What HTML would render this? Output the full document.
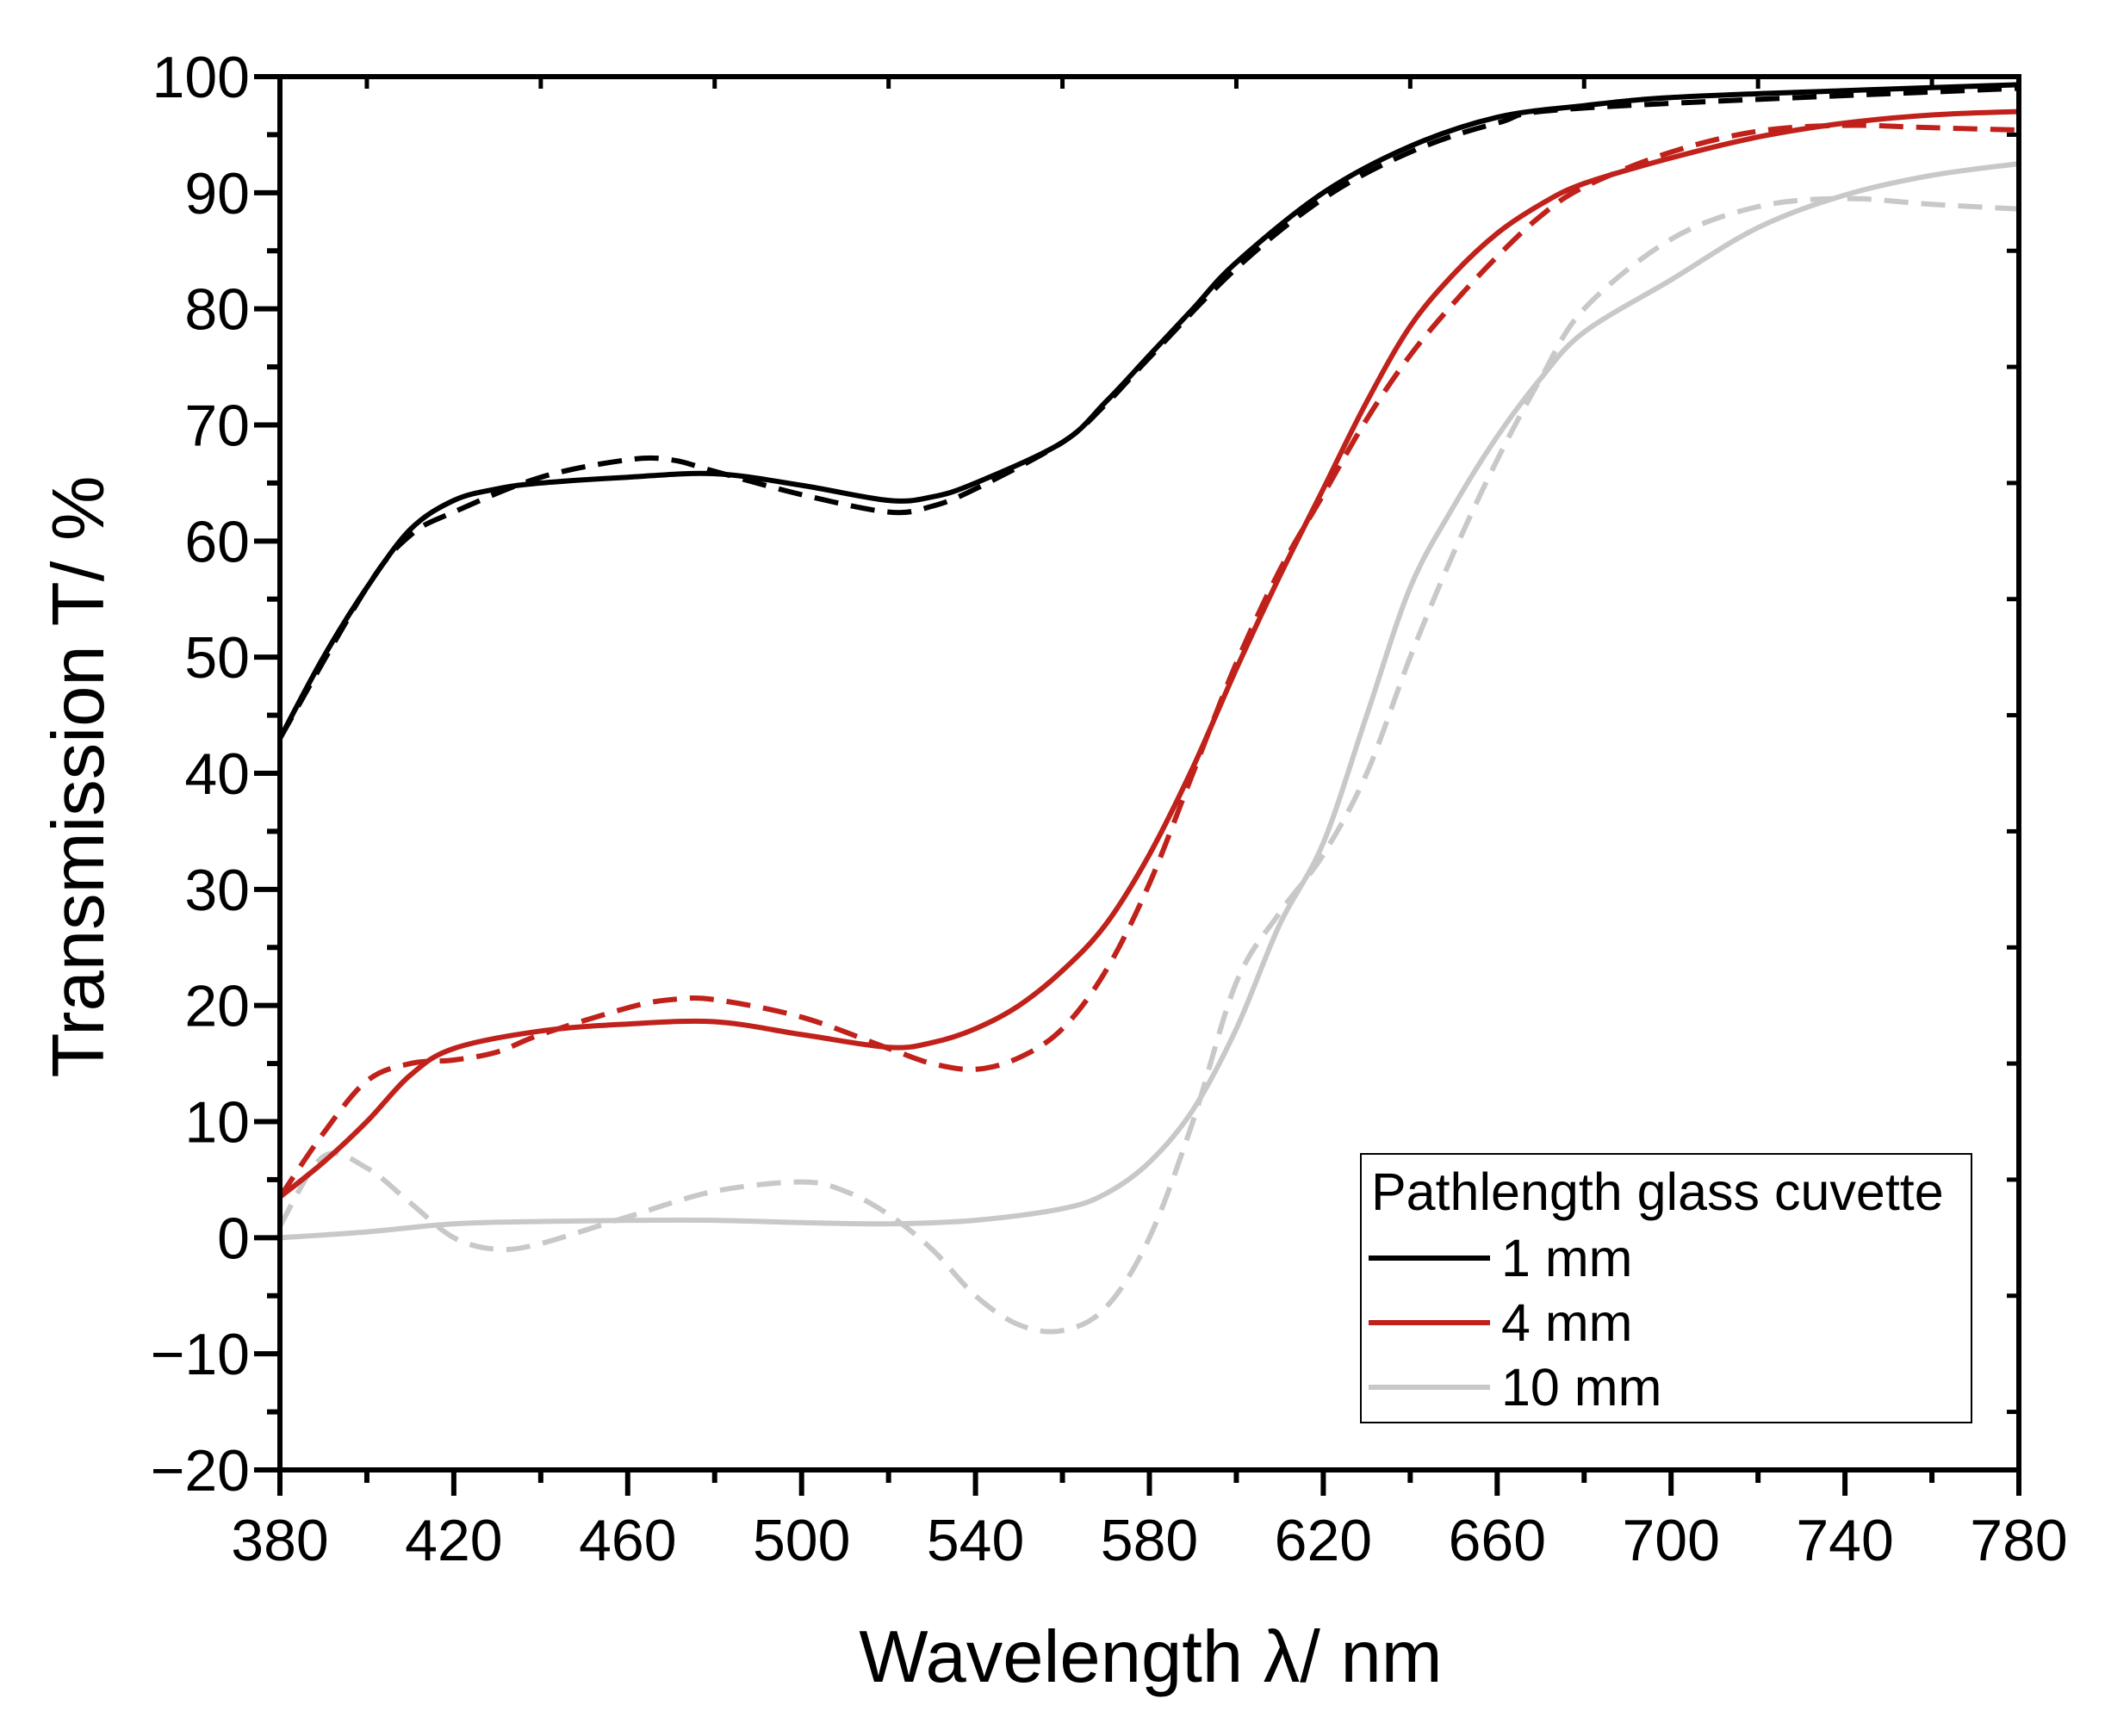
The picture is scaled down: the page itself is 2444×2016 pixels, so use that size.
<!DOCTYPE html>
<html><head><meta charset="utf-8"><style>body{margin:0;background:#fff}svg{display:block}text{font-family:"Liberation Sans",Arial,sans-serif;fill:#000}</style></head>
<body>
<svg id="s" width="2444" height="2016" viewBox="0 0 2444 2016" xmlns="http://www.w3.org/2000/svg"></svg>
<script>
const s=document.getElementById('s');
const X=l=>325+(l-380)*(2344-325)/400, Y=t=>1707-(t+20)*(1707-89)/120;
let h='';
const D={
bs:[[380,43],[390,50],[400,56],[410,61],[420,63.5],[430,64.5],[440,65],[460,65.5],[480,65.8],[500,64.8],[520,63.5],[530,63.8],[540,65],[560,68.5],[570,72],[580,76],[590,80],[600,84],[620,90],[640,94],[660,96.5],[680,97.5],[700,98.2],[740,98.8],[780,99.3]],
bd:[[380,43],[400,56],[410,60.5],[420,62.5],[440,65.5],[460,67],[470,67],[480,66],[500,64],[520,62.5],[530,63],[540,64.5],[560,68.5],[570,71.8],[580,75.8],[600,83.5],[620,89.5],[640,93.5],[660,96],[680,97.3],[780,99]],
rs:[[380,3.5],[390,6.5],[400,10],[410,14],[420,16.3],[440,17.8],[460,18.4],[480,18.6],[500,17.5],[520,16.4],[530,16.8],[540,18],[550,20],[560,23],[570,27],[580,33],[590,40.5],[600,49],[610,57],[620,64.5],[630,72],[640,78.5],[650,83],[660,86.5],[670,89],[680,90.8],[700,93],[720,94.8],[740,96],[760,96.7],[780,97]],
rd:[[380,3.5],[390,9],[400,13.5],[410,15],[420,15.3],[430,16],[440,17.5],[460,19.8],[470,20.5],[480,20.5],[500,19],[520,16.3],[530,15],[540,14.5],[550,15.5],[560,18],[570,23],[580,30.5],[590,40],[600,49.5],[610,57.5],[620,64],[630,70.5],[640,76],[650,80.5],[660,84.5],[670,88],[680,90.5],[700,93.5],[720,95.3],[740,95.8],[760,95.6],[780,95.4]],
gs:[[380,0],[400,0.5],[420,1.2],[440,1.4],[460,1.5],[480,1.5],[500,1.3],[520,1.2],[540,1.5],[560,2.5],[570,3.8],[580,6.5],[590,11],[600,18],[610,27],[620,34],[630,45],[640,56],[650,63],[660,69],[670,74],[680,78],[700,82.5],[720,87],[740,89.8],[760,91.5],[780,92.5]],
gd:[[380,1],[390,7],[400,6],[410,3],[420,0],[430,-1],[440,-0.5],[460,1.8],[480,4],[500,4.8],[510,4],[520,2],[530,-1],[540,-5],[550,-7.5],[560,-8],[570,-6],[580,0],[590,10],[600,22],[610,28],[620,33],[630,40],[640,50],[650,59],[660,67],[670,74],[680,80],[700,86],[720,88.8],[740,89.5],[760,89],[780,88.6]]};
function path(p,c,d){const P=p.map(q=>[X(q[0]),Y(q[1])]);let st='M'+P[0][0].toFixed(1)+','+P[0][1].toFixed(1);
for(let i=0;i<P.length-1;i++){const p0=P[Math.max(0,i-1)],p1=P[i],p2=P[i+1],p3=P[Math.min(P.length-1,i+2)];
const c1=[p1[0]+(p2[0]-p0[0])/6,p1[1]+(p2[1]-p0[1])/6],c2=[p2[0]-(p3[0]-p1[0])/6,p2[1]-(p3[1]-p1[1])/6];
st+=`C${c1[0].toFixed(1)},${c1[1].toFixed(1)} ${c2[0].toFixed(1)},${c2[1].toFixed(1)} ${p2[0].toFixed(1)},${p2[1].toFixed(1)}`;}
h+=`<path d="${st}" fill="none" stroke="${c}" stroke-width="6" stroke-linejoin="round" ${d?'stroke-dasharray="28,15"':''}/>`;}
path(D.gd,'#c8c8c8',1);path(D.gs,'#c8c8c8',0);
path(D.rd,'#c0211a',1);path(D.rs,'#c0211a',0);
path(D.bd,'#000',1);path(D.bs,'#000',0);
h+=`<rect x="325" y="89" width="2019" height="1618" fill="none" stroke="#000" stroke-width="6"/>`;
for(let l=380;l<=780;l+=20){const x=X(l),maj=(l-380)%40==0;
h+=`<line x1="${x}" y1="1707" x2="${x}" y2="${1707+(maj?30:15)}" stroke="#000" stroke-width="6"/>`;
h+=`<line x1="${x}" y1="89" x2="${x}" y2="${89+(maj?0:14)}" stroke="#000" stroke-width="5"/>`;
if(maj)h+=`<text x="${x}" y="1812" font-size="68" text-anchor="middle">${l}</text>`;}
for(let t=-20;t<=100;t+=5){const y=Y(t),maj=t%10==0;
h+=`<line x1="325" y1="${y}" x2="${325-(maj?30:15)}" y2="${y}" stroke="#000" stroke-width="6"/>`;
h+=`<line x1="2344" y1="${y}" x2="${2344-(maj?0:14)}" y2="${y}" stroke="#000" stroke-width="5"/>`;
if(maj)h+=`<text x="290" y="${y+24}" font-size="68" text-anchor="end">${t<0?'\u2212'+(-t):t}</text>`;}
h+=`<text x="1336" y="1953" font-size="85" text-anchor="middle">Wavelength λ/ nm</text>`;
h+=`<text transform="translate(120,902) rotate(-90)" font-size="85" text-anchor="middle">Transmission T/ %</text>`;
h+=`<rect x="1580" y="1340" width="709" height="312" fill="#fff" stroke="#000" stroke-width="2"/>`;
h+=`<text x="1592" y="1405" font-size="61">Pathlength glass cuvette</text>`;
[['#000','1 mm',1461],['#c0211a','4 mm',1536],['#c8c8c8','10 mm',1611]].forEach(r=>{
h+=`<line x1="1589" y1="${r[2]}" x2="1730" y2="${r[2]}" stroke="${r[0]}" stroke-width="6"/><text x="1743" y="${r[2]+21}" font-size="61">${r[1]}</text>`;});
s.innerHTML=h;
</script>
</body></html>
